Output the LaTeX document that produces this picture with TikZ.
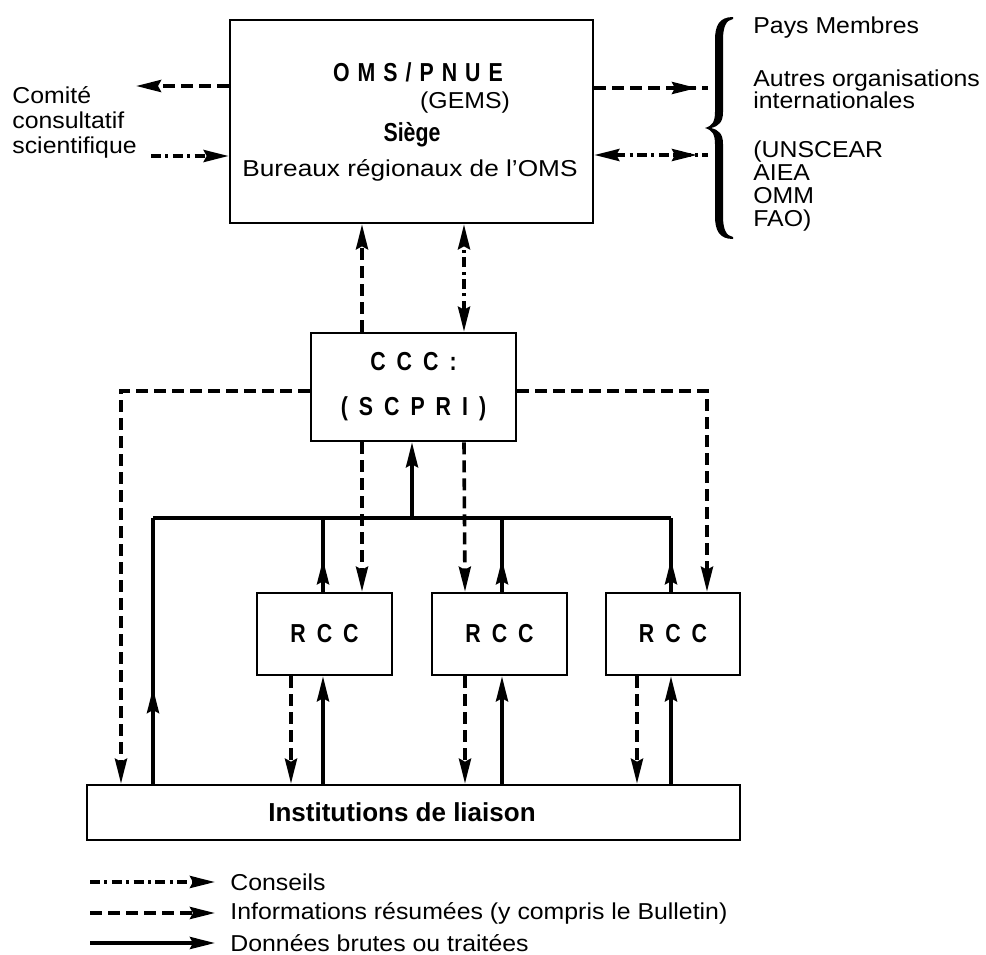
\documentclass[tikz,border=0pt]{standalone}
\usepackage{fontspec}
\setmainfont{Liberation Sans}[FakeStretch=1.08]
\newfontfamily\rgw{Liberation Sans}[FakeStretch=1.14]
\newfontfamily\bfc{Liberation Sans}[FakeStretch=0.82]
\newfontfamily\bfw{Liberation Sans}[FakeStretch=1.0]
\usetikzlibrary{arrows.meta,decorations.markings,calc}
\newcommand\gp{\hspace{4pt}}
\newcommand\gq{\hspace{5.5pt}}
\begin{document}
\begin{tikzpicture}[x=0.5pt,y=-0.5pt,
  >={Stealth[length=12.5pt,width=6pt,inset=1.5pt]},
  every node/.style={font=\fontsize{11.5}{12.5}\selectfont, inner sep=0pt},
  box/.style={draw, line width=1.3pt, inner sep=0pt},
  ln/.style={line width=1.8pt},
  dsh/.style={line width=1.8pt, dash pattern=on 6pt off 3pt},
  ddot/.style={line width=1.8pt, dash pattern=on 5pt off 2.2pt on 1.5pt off 2.2pt},
  arrowat/.style={postaction={solid, decorate, decoration={markings, mark=at position #1 with {\arrow{>}}}}},
  boldtxt/.style={font=\fontsize{13}{15}\selectfont\bfc\bfseries}
]
\useasboundingbox (0,0) rectangle (986,954);

% ---------- boxes ----------
\node[box, minimum width=181.5pt, minimum height=101.5pt] (top) at (411.5,121.5) {};
\node[box, minimum width=102.5pt, minimum height=54pt, align=center,
      font=\fontsize{13}{22.5}\selectfont\bfc\bfseries] (ccc) at (413.5,387)
      {C\gq C\gq C\gq :\\(\gq S\gq C\gq P\gq R\gq I\gq )};
\node[box, minimum width=67.5pt, minimum height=41pt, boldtxt] (rcc1) at (324.5,634) {R\gq C\gq C};
\node[box, minimum width=67.5pt, minimum height=41pt, boldtxt] (rcc2) at (499.5,634) {R\gq C\gq C};
\node[box, minimum width=67pt, minimum height=41pt, boldtxt] (rcc3) at (673,634) {R\gq C\gq C};
\node[box, minimum width=326.5pt, minimum height=27.5pt] (inst) at (413.5,812.5) {};
\node[font=\fontsize{13}{15}\selectfont\bfw\bfseries] (instlbl) at (402,812) {Institutions de liaison};

% ---------- texts in top box ----------
\node[boldtxt] (oms) at (418,72) {O\gp M\gp S\gp /\gp P\gp N\gp U\gp E};
\node (gems) at (465,103) {(GEMS)};
\node[boldtxt] (siege) at (412,135) {Siège};
\node[font=\fontsize{11.5}{12.5}\selectfont\rgw] (bur) at (410,170) {Bureaux régionaux de l’OMS};

% ---------- side texts ----------
\node[anchor=west, align=left, font=\fontsize{11.5}{12.5}\selectfont] (cmt) at (12,122) {Comité\\consultatif\\scientifique};
\node[anchor=west] (pays) at (753,28) {Pays Membres};
\node[anchor=west, align=left, font=\fontsize{11.5}{11.2}\selectfont] (autres) at (753,89) {Autres organisations\\internationales};
\node[anchor=west, align=left, font=\fontsize{11.5}{11.4}\selectfont] (uns) at (753,186) {(UNSCEAR\\AIEA\\OMM\\FAO)};

% ---------- brace ----------
\fill (733,17) .. controls (719,17) and (715,26) .. (715,40) -- (715,112)
  .. controls (715,122) and (712,126) .. (705,128)
  .. controls (712,130) and (715,134) .. (715,144) -- (715,216)
  .. controls (715,230) and (719,239) .. (733,239)
  -- (733,237) .. controls (726,236) and (723,229) .. (723,216) -- (723,144)
  .. controls (723,134) and (719,130) .. (711,128)
  .. controls (719,126) and (723,122) .. (723,112) -- (723,40)
  .. controls (723,27) and (726,20) .. (733,19) -- cycle;

% ---------- coordinates ----------
\coordinate (cmtA) at (136,86);
\coordinate (cmtB) at (151,156);
\coordinate (rA) at (708,88);
\coordinate (rB) at (708,155);
\coordinate (k1) at (362,300);
\coordinate (k2) at (464,300);
\coordinate (k3) at (412,300);
\coordinate (k4) at (323,300);
\coordinate (k5) at (502,300);
\coordinate (m1) at (291,700);
\coordinate (m2) at (465,700);
\coordinate (m3) at (637,700);
\coordinate (busL) at (153,518);
\coordinate (busR) at (671,518);
\coordinate (cL) at (121,391);
\coordinate (cR) at (707,391);

% ---------- top box connectors ----------
\draw[dsh,->] (top.west |- cmtA) -- (cmtA);
\draw[ddot,->] (cmtB) -- (top.west |- cmtB);
\draw[dsh, arrowat=-5.5pt] (top.east |- rA) -- (rA);
\draw[ddot, <-, arrowat=-5.5pt] (top.east |- rB) -- (rB);
\draw[dsh,->] (ccc.north -| k1) -- (top.south -| k1);
\draw[ddot,<->] (ccc.north -| k2) -- (top.south -| k2);

% ---------- CCC connectors ----------
\draw[dsh,->] (ccc.south -| k1) -- (rcc1.north -| k1);
\draw[dsh,->] (ccc.south -| k2) -- (rcc2.north -| m2);
\draw[dsh,->] (ccc.west |- cL) -- (cL) -- (inst.north -| cL);
\draw[dsh,->] (ccc.east |- cR) -- (cR) -- (rcc3.north -| cR);

% ---------- bus ----------
\draw[ln] (busL) -- (busR);
\draw[ln,->] (busL -| k3) -- (ccc.south -| k3);
\draw[ln, arrowat=0.44] (rcc1.north -| k4) -- (busL -| k4);
\draw[ln, arrowat=0.44] (rcc2.north -| k5) -- (busL -| k5);
\draw[ln, arrowat=0.44] (rcc3.north -| busR) -- (busR);
\draw[ln, arrowat=0.36] (inst.north -| busL) -- (busL);

% ---------- RCC to institutions ----------
\draw[dsh,->] (rcc1.south -| m1) -- (inst.north -| m1);
\draw[dsh,->] (rcc2.south -| m2) -- (inst.north -| m2);
\draw[dsh,->] (rcc3.south -| m3) -- (inst.north -| m3);
\draw[ln,->] (inst.north -| k4) -- (rcc1.south -| k4);
\draw[ln,->] (inst.north -| k5) -- (rcc2.south -| k5);
\draw[ln,->] (inst.north -| busR) -- (rcc3.south -| busR);

% ---------- legend ----------
\node[anchor=west] (lg1) at (230,882) {Conseils};
\node[anchor=west] (lg2) at (230,913) {Informations résumées (y compris le Bulletin)};
\node[anchor=west] (lg3) at (230,943) {Données brutes ou traitées};
\coordinate (ls1) at (90,882);
\coordinate (ls2) at (90,913);
\coordinate (ls3) at (90,943);
\draw[ddot,->] (ls1) -- ([xshift=-7.5pt]lg1.west);
\draw[dsh,->] (ls2) -- ([xshift=-7.5pt]lg2.west);
\draw[ln,->] (ls3) -- ([xshift=-7.5pt]lg3.west);
\end{tikzpicture}
\end{document}
